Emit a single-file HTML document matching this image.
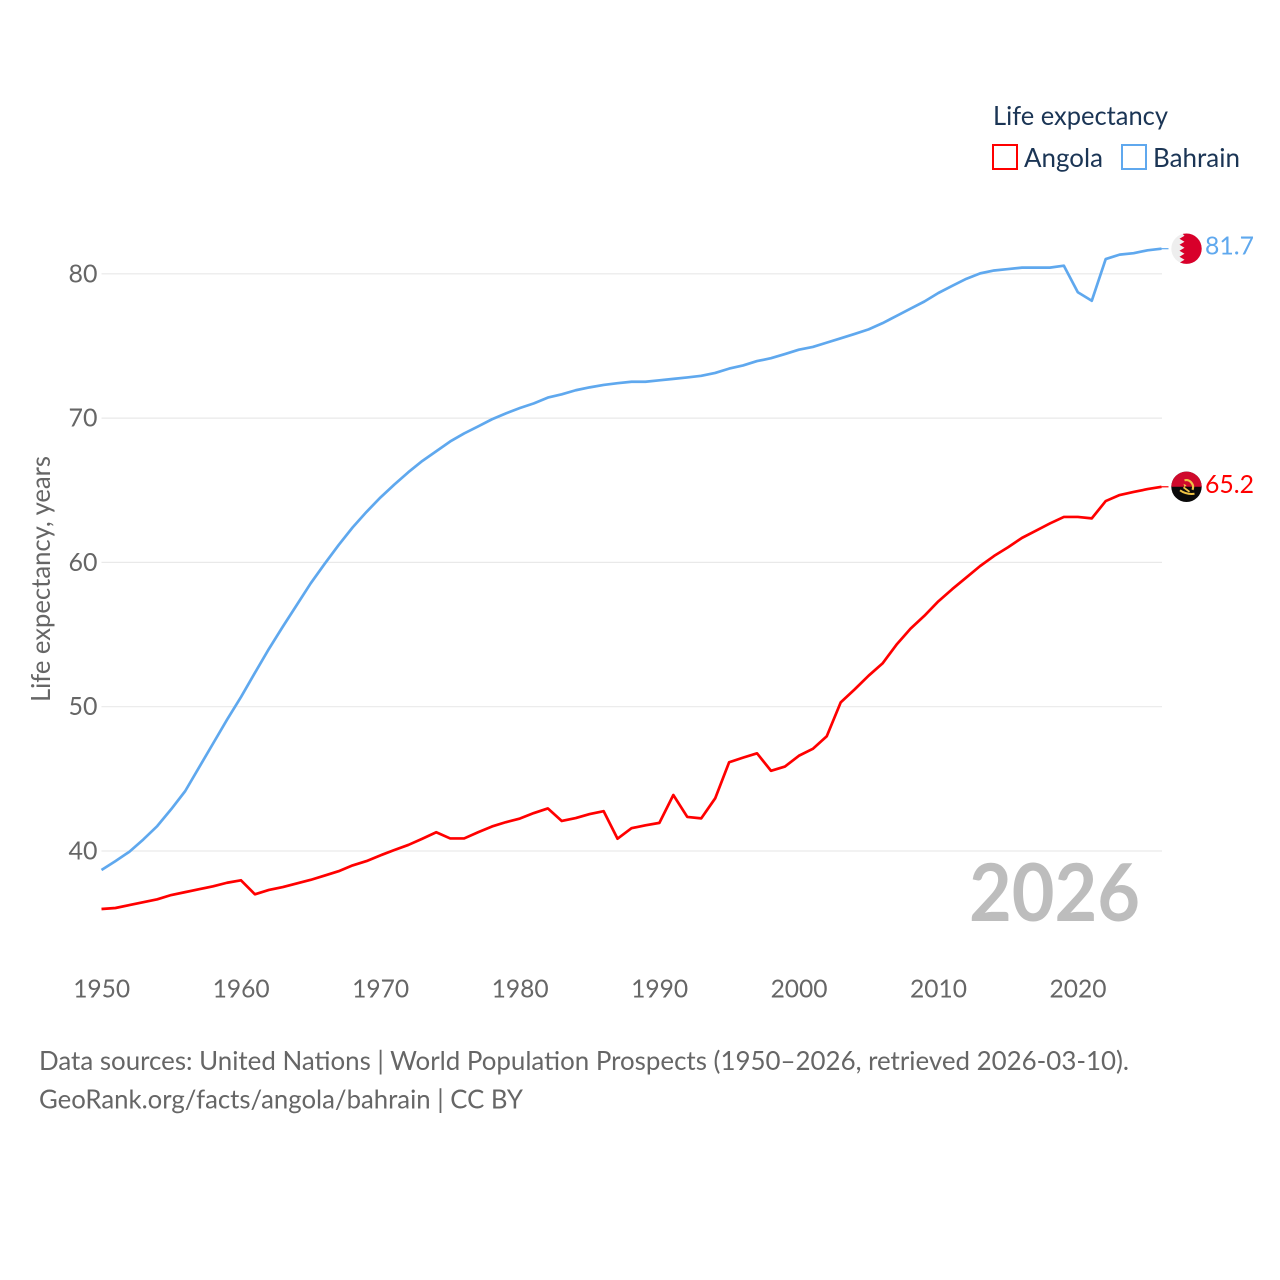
<!DOCTYPE html>
<html lang="en">
<head>
<meta charset="utf-8">
<title>Life expectancy: Angola and Bahrain</title>
<style>
html,body{margin:0;padding:0;background:#fff;}
#chart{display:block;width:1280px;height:1280px;}
text{font-family:"Lato","Carlito","Liberation Sans",sans-serif;}
</style>
</head>
<body>
<svg id="chart" xmlns="http://www.w3.org/2000/svg" width="1280" height="1280" viewBox="0 0 1280 1280">
  <rect x="0" y="0" width="1280" height="1280" fill="#fff"/>
  <g id="grid"></g>
  <g id="yticks"></g>
  <g id="xticks"></g>
  <text transform="translate(50,702) rotate(-90)" font-size="26" fill="#666" textLength="246" lengthAdjust="spacingAndGlyphs">Life expectancy, years</text>

  <text x="969" y="921" font-size="80" font-weight="700" fill="#bdbdbd" textLength="171" lengthAdjust="spacingAndGlyphs">2026</text>

  <g id="series"></g>
  <g id="ends"></g>

  <g>
    <text x="993" y="125" font-size="26.5" fill="#1b3555" textLength="175" lengthAdjust="spacingAndGlyphs">Life expectancy</text>
    <g>
      <rect x="993" y="145" width="24" height="24" fill="#fff" stroke="#ff0000" stroke-width="2"/>
      <text x="1024" y="167" font-size="26.5" fill="#1b3555" textLength="79" lengthAdjust="spacingAndGlyphs">Angola</text>
    </g>
    <g>
      <rect x="1122" y="145" width="24" height="24" fill="#fff" stroke="#5fa8ee" stroke-width="2"/>
      <text x="1153" y="167" font-size="26.5" fill="#1b3555" textLength="87" lengthAdjust="spacingAndGlyphs">Bahrain</text>
    </g>
  </g>

  <text x="39" y="1070" font-size="26" fill="#666" textLength="1090" lengthAdjust="spacingAndGlyphs">Data sources: United Nations | World Population Prospects (1950–2026, retrieved 2026-03-10).</text>
  <text x="39" y="1108.5" font-size="26" fill="#666" textLength="484" lengthAdjust="spacingAndGlyphs">GeoRank.org/facts/angola/bahrain | CC BY</text>
</svg>
<script>
const startYear = 1950;
const yTickValues = [40, 50, 60, 70, 80];
const xTickValues = [1950, 1960, 1970, 1980, 1990, 2000, 2010, 2020];
const angolaValues = [
  35.98, 36.05, 36.25, 36.45, 36.65, 36.95, 37.15, 37.35, 37.55, 37.8,
  37.97, 37.0, 37.3, 37.5, 37.75, 38.0, 38.3, 38.6, 39.0, 39.3,
  39.7, 40.07, 40.42, 40.85, 41.3, 40.87, 40.87, 41.3, 41.7, 42.0,
  42.25, 42.63, 42.95, 42.08, 42.28, 42.56, 42.76, 40.85, 41.58, 41.78,
  41.95, 43.88, 42.36, 42.26, 43.65, 46.15, 46.47, 46.77, 45.56, 45.85,
  46.6, 47.08, 47.95, 50.3, 51.2, 52.15, 53.0, 54.3, 55.4, 56.3,
  57.3, 58.15, 58.95, 59.75, 60.45, 61.05, 61.7, 62.2, 62.7, 63.15,
  63.15, 63.05, 64.25, 64.67, 64.88, 65.08, 65.24
];
const bahrainValues = [
  38.68, 39.3, 39.95, 40.8, 41.73, 42.9, 44.15, 45.8, 47.45, 49.1,
  50.67, 52.35, 54.0, 55.55, 57.05, 58.55, 59.9, 61.2, 62.42, 63.5,
  64.5, 65.4, 66.25, 67.03, 67.7, 68.38, 68.94, 69.42, 69.92, 70.33,
  70.7, 71.02, 71.42, 71.65, 71.93, 72.13, 72.3, 72.42, 72.52, 72.52,
  72.62, 72.72, 72.82, 72.93, 73.13, 73.43, 73.65, 73.95, 74.15, 74.44,
  74.74, 74.93, 75.23, 75.53, 75.83, 76.15, 76.58, 77.08, 77.58, 78.08,
  78.67, 79.17, 79.65, 80.03, 80.23, 80.33, 80.43, 80.43, 80.43, 80.56,
  78.72, 78.13, 81.02, 81.33, 81.43, 81.63, 81.74
];

const NS = 'http://www.w3.org/2000/svg';
function xScale(year) { return 101.5 + (year - 1950) * (1060 / 76); }
function yScale(v) { return 851 - (v - 40) * 14.43; }
function make(tag, attrs, parent) {
  const el = document.createElementNS(NS, tag);
  for (const k in attrs) el.setAttribute(k, attrs[k]);
  parent.appendChild(el);
  return el;
}
function toPoints(values) {
  return values.map(function (v, i) {
    return xScale(startYear + i).toFixed(2) + ',' + yScale(v).toFixed(2);
  }).join(' ');
}

const grid = document.getElementById('grid');
const yticks = document.getElementById('yticks');
const xticks = document.getElementById('xticks');
const seriesLayer = document.getElementById('series');
const ends = document.getElementById('ends');

yTickValues.forEach(function (v) {
  const line = make('line', { x1: 101.5, x2: 1162, y1: yScale(v), y2: yScale(v), stroke: '#e9e9e9', 'stroke-width': 1.2 }, grid);
  
  
  const label = make('text', { x: 68.5, y: yScale(v) + 8.5, 'font-size': 25.5, fill: '#666', textLength: 29, lengthAdjust: 'spacingAndGlyphs' }, yticks);
  
  
  label.textContent = String(v);
});

xTickValues.forEach(function (year) {
  const label = make('text', { x: xScale(year) - 28.3, y: 997.5, 'font-size': 25.5, fill: '#666', textLength: 57, lengthAdjust: 'spacingAndGlyphs' }, xticks);
  
  
  label.textContent = String(year);
});

const angolaLine = make('polyline', { points: toPoints(angolaValues), fill: 'none', stroke: '#ff0000', 'stroke-width': 2.7, 'stroke-linejoin': 'round' }, seriesLayer);



const bahrainLine = make('polyline', { points: toPoints(bahrainValues), fill: 'none', stroke: '#5fa8ee', 'stroke-width': 2.7, 'stroke-linejoin': 'round' }, seriesLayer);



const lastYear = startYear + angolaValues.length - 1;
const endX = xScale(lastYear);
const flagX = endX + 25;

/* Angola end marker */
const angolaLast = angolaValues[angolaValues.length - 1];
const angolaY = yScale(angolaLast);
const angolaTick = make('line', { x1: endX, x2: endX + 7, y1: angolaY, y2: angolaY, stroke: '#ff0000', 'stroke-width': 1.2 }, ends);


const angolaFlag = make('g', { transform: 'translate(' + flagX + ',' + angolaY + ')' }, ends);


make('circle', { cx: 0, cy: 0, r: 15.2, fill: '#0a0a0a' }, angolaFlag);
make('path', { d: 'M-15.2 0A15.2 15.2 0 0 1 15.2 0Z', fill: '#cf0a2c' }, angolaFlag);
make('path', { d: 'M-2 -6.5A7 7 0 0 1 6 3', fill: 'none', stroke: '#f0c445', 'stroke-width': 2.2 }, angolaFlag);
make('path', { d: 'M-6.5 3.5Q0 8 8 7', fill: 'none', stroke: '#f0c445', 'stroke-width': 2 }, angolaFlag);
make('path', { d: 'M-3 0.5L3 5', fill: 'none', stroke: '#f0c445', 'stroke-width': 1.8 }, angolaFlag);
make('path', { d: 'M-3 -3L0 -1.5L-2 0.5Z', fill: '#f0c445' }, angolaFlag);
const angolaLabel = make('text', { x: 1205, y: angolaY + 6, 'font-size': 25.5, fill: '#ff0000', textLength: 49, lengthAdjust: 'spacingAndGlyphs' }, ends);


angolaLabel.textContent = angolaLast.toFixed(1);

/* Bahrain end marker */
const bahrainLast = bahrainValues[bahrainValues.length - 1];
const bahrainY = yScale(bahrainLast);
const bahrainTick = make('line', { x1: endX, x2: endX + 7, y1: bahrainY, y2: bahrainY, stroke: '#5fa8ee', 'stroke-width': 1.2 }, ends);


const bahrainFlag = make('g', { transform: 'translate(' + flagX + ',' + bahrainY + ')' }, ends);


make('circle', { cx: 0, cy: 0, r: 15.2, fill: '#eeeeee' }, bahrainFlag);
const clip = make('clipPath', { id: 'bahrain-clip' }, bahrainFlag);
make('circle', { cx: 0, cy: 0, r: 15.2 }, clip);
make('path', {
  d: 'M16 -16H-5L-2 -13L-7 -10L-2 -7L-7 -4L-2 -1L-7 2L-2 5L-7 8L-2 11L-7 14L-5 16H16Z',
  fill: '#d8002a',
  'clip-path': 'url(#bahrain-clip)'
}, bahrainFlag);
const bahrainLabel = make('text', { x: 1205, y: bahrainY + 6, 'font-size': 25.5, fill: '#5fa8ee', textLength: 49, lengthAdjust: 'spacingAndGlyphs' }, ends);


bahrainLabel.textContent = bahrainLast.toFixed(1);
</script>
</body>
</html>
